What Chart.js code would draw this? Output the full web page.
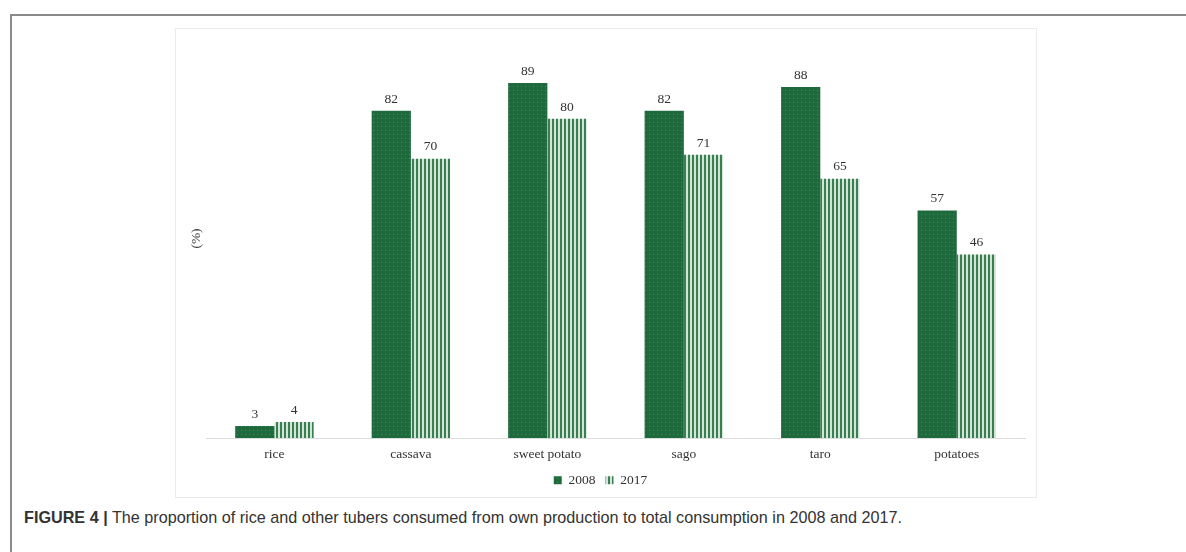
<!DOCTYPE html>
<html>
<head>
<meta charset="utf-8">
<script src="https://cdn.jsdelivr.net/npm/chart.js@4/dist/chart.umd.min.js"></script>
<style>
  body { margin: 0; background: #fff; width: 1186px; height: 552px; overflow: hidden; position: relative; }
  #frame { position: absolute; left: 10px; top: 14px; right: 0; bottom: 0; border-left: 2px solid #8a8a8a; border-top: 2px solid #8a8a8a; }
  #box { position: absolute; left: 175px; top: 28px; width: 860px; height: 468px; border: 1px solid #ebebeb; }
  #caption { position: absolute; left: 24px; top: 508px; font: 16.2px "Liberation Sans", Arial, sans-serif; color: #333; }
  #caption b { font-weight: bold; }
</style>
</head>
<body>
<div id="frame"></div>
<div id="box"><canvas id="chart" width="860" height="468"></canvas></div>
<div id="caption"><b>FIGURE 4 |</b> The proportion of rice and other tubers consumed from own production to total consumption in 2008 and 2017.</div>
<script>
// datos
const categories = ['rice', 'cassava', 'sweet potato', 'sago', 'taro', 'potatoes'];
const values2008 = [3, 82, 89, 82, 88, 57];
const values2017 = [4, 70, 80, 71, 65, 46];

// relleno punteado para 2008
const dotPattern = () => {
    const c = document.createElement('canvas');
    c.width = 4; c.height = 4;
    const g = c.getContext('2d');
    g.fillStyle = '#1f6a3d';
    g.fillRect(0, 0, 4, 4);
    g.fillStyle = '#3f8a5c';
    g.fillRect(1, 1, 1, 1);
    return g.createPattern(c, 'repeat');
};

// rayas verticales para 2017
const stripePattern = () => {
    const c = document.createElement('canvas');
    c.width = 4; c.height = 4;
    const g = c.getContext('2d');
    g.fillStyle = '#d3e5d7';
    g.fillRect(0, 0, 4, 4);
    g.fillStyle = '#3a7f52';
    g.fillRect(0, 0, 2, 4);
    return g.createPattern(c, 'repeat');
};

const serif = '"Liberation Serif", "Times New Roman", serif';

const valueLabels = {
    id: 'valueLabels',
    afterDatasetsDraw(chart) {
        const ctx = chart.ctx;
        ctx.save();
        ctx.font = '13.5px ' + serif;
        ctx.fillStyle = '#333';
        ctx.textAlign = 'center';
        ctx.textBaseline = 'bottom';
        chart.data.datasets.forEach((ds, i) => {
            chart.getDatasetMeta(i).data.forEach((bar, j) => {
                ctx.fillText(ds.data[j], bar.x, bar.y - 5);
            });
        });
        ctx.restore();
    }
};

const ctx = document.getElementById('chart').getContext('2d');
new Chart(ctx, {
    type: 'bar',
    data: {
        labels: categories,
        datasets: [
            {
                label: '2008',
                data: values2008,
                backgroundColor: dotPattern(),
                categoryPercentage: 0.575,
                barPercentage: 1,
            },
            {
                label: '2017',
                data: values2017,
                backgroundColor: stripePattern(),
                categoryPercentage: 0.575,
                barPercentage: 1,
            }
        ],
    },
    options: {
        responsive: false,
        animation: false,
        layout: { padding: { top: 10, right: 11, bottom: 0, left: 0 } },
        plugins: {
            legend: {
                position: 'bottom',
                labels: {
                    boxWidth: 8,
                    boxHeight: 8,
                    padding: 10,
                    color: '#333',
                    font: { family: serif, size: 13.5 },
                },
            },
            tooltip: { enabled: false },
        },
        scales: {
            x: {
                grid: { display: false, drawTicks: false },
                border: { display: true, color: '#dcdcdc', width: 1 },
                ticks: { color: '#333', padding: 8, font: { family: serif, size: 13.5 } },
                afterFit: (scale) => { scale.height = 25.5; },
            },
            y: {
                min: 0,
                max: 100,
                grid: { display: false, drawTicks: false },
                border: { display: false },
                ticks: { display: false },
                title: {
                    display: true,
                    text: '(%)',
                    color: '#333',
                    padding: { top: 12, bottom: 2 },
                    font: { family: serif, size: 13.5 },
                },
            },
        },
    },
    plugins: [valueLabels],
});
</script>
</body>
</html>
